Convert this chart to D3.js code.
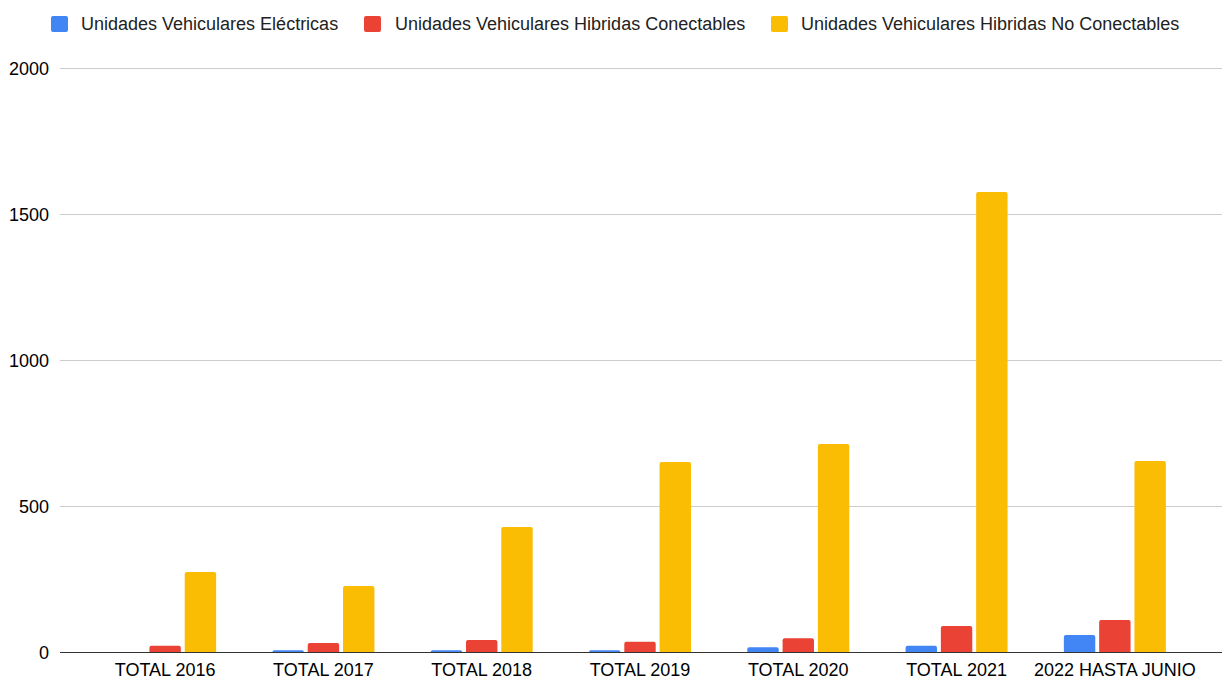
<!DOCTYPE html>
<html>
<head>
<meta charset="utf-8">
<script src="https://cdn.jsdelivr.net/npm/d3@7"></script>
<style>
  body { margin: 0; background: #fff; }
  svg { font-family: "Liberation Sans", Arial, sans-serif; }
</style>
</head>
<body>
<svg id="chart" width="1223" height="679"></svg>
<script>
// data
const categories = ['TOTAL 2016', 'TOTAL 2017', 'TOTAL 2018', 'TOTAL 2019', 'TOTAL 2020', 'TOTAL 2021', '2022 HASTA JUNIO'];
const seriesNames = ['Unidades Vehiculares Eléctricas', 'Unidades Vehiculares Hibridas Conectables', 'Unidades Vehiculares Hibridas No Conectables'];
const electricas = [0, 6, 6, 6, 16, 21, 58];
const conectables = [21, 31, 41, 35, 47, 89, 110];
const noConectables = [274, 226, 428, 651, 712, 1575, 654];
const yTicks = [0, 500, 1000, 1500, 2000];
const colors = ['#4285f4', '#ea4335', '#fbbc04'];

const series = [electricas, conectables, noConectables];

const svg = d3.select('#chart');
const gridLeft = 60, gridRight = 1222;
const plotLeft = 86, plotRight = 1194;
const plotTop = 68, plotBottom = 652;

const x = d3.scaleBand().domain(categories).range([plotLeft, plotRight]).paddingInner(0).paddingOuter(0);
const inner = d3.scaleBand().domain(d3.range(series.length)).range([0, 102]).paddingInner(0.11);
const y = d3.scaleLinear().domain([0, 2000]).range([plotBottom, plotTop]);

// gridlines
svg.append('g').selectAll('line')
  .data(yTicks.filter(t => t > 0))
  .join('line')
  .attr('x1', gridLeft).attr('x2', gridRight)
  .attr('y1', d => Math.round(y(d)) + 0.5).attr('y2', d => Math.round(y(d)) + 0.5)
  .attr('stroke', '#cccccc').attr('stroke-width', 1);

// y labels
svg.append('g').selectAll('text')
  .data(yTicks)
  .join('text')
  .attr('x', 49)
  .attr('y', d => y(d) + 6.5)
  .attr('text-anchor', 'end')
  .attr('font-size', 18)
  .attr('fill', '#000')
  .text(d => d);

// rounded-top bar path
function barPath(x0, y0, w, h, r) {
  r = Math.min(r, h, w / 2);
  return `M${x0},${y0 + h}V${y0 + r}Q${x0},${y0} ${x0 + r},${y0}H${x0 + w - r}Q${x0 + w},${y0} ${x0 + w},${y0 + r}V${y0 + h}Z`;
}

const groups = svg.append('g').selectAll('g')
  .data(categories)
  .join('g')
  .attr('transform', d => `translate(${x(d) + (x.bandwidth() - 102) / 2},0)`);

groups.selectAll('path')
  .data((d, i) => series.map((s, k) => ({ k, v: s[i] })).filter(e => e.v > 0))
  .join('path')
  .attr('d', d => barPath(inner(d.k), y(d.v), inner.bandwidth(), plotBottom - y(d.v), 2))
  .attr('fill', d => colors[d.k]);

// baseline
svg.append('line')
  .attr('x1', gridLeft).attr('x2', gridRight)
  .attr('y1', plotBottom + 0.5).attr('y2', plotBottom + 0.5)
  .attr('stroke', '#333333').attr('stroke-width', 1);

// x labels
svg.append('g').selectAll('text')
  .data(categories)
  .join('text')
  .attr('x', d => x(d) + x.bandwidth() / 2)
  .attr('y', 676)
  .attr('text-anchor', 'middle')
  .attr('font-size', 18)
  .attr('fill', '#000')
  .text(d => d);

// legend
const legendX = [51, 364, 771];
const legend = svg.append('g').selectAll('g')
  .data(seriesNames)
  .join('g')
  .attr('transform', (d, i) => `translate(${legendX[i]},0)`);
legend.append('rect')
  .attr('x', 0).attr('y', 16).attr('width', 17).attr('height', 16).attr('rx', 2)
  .attr('fill', (d, i) => colors[i]);
legend.append('text')
  .attr('x', d => 0)
  .attr('dx', (d, i) => [30, 31, 30][i])
  .attr('y', 30)
  .attr('font-size', 18)
  .attr('fill', '#222')
  .text(d => d);
</script>
</body>
</html>
